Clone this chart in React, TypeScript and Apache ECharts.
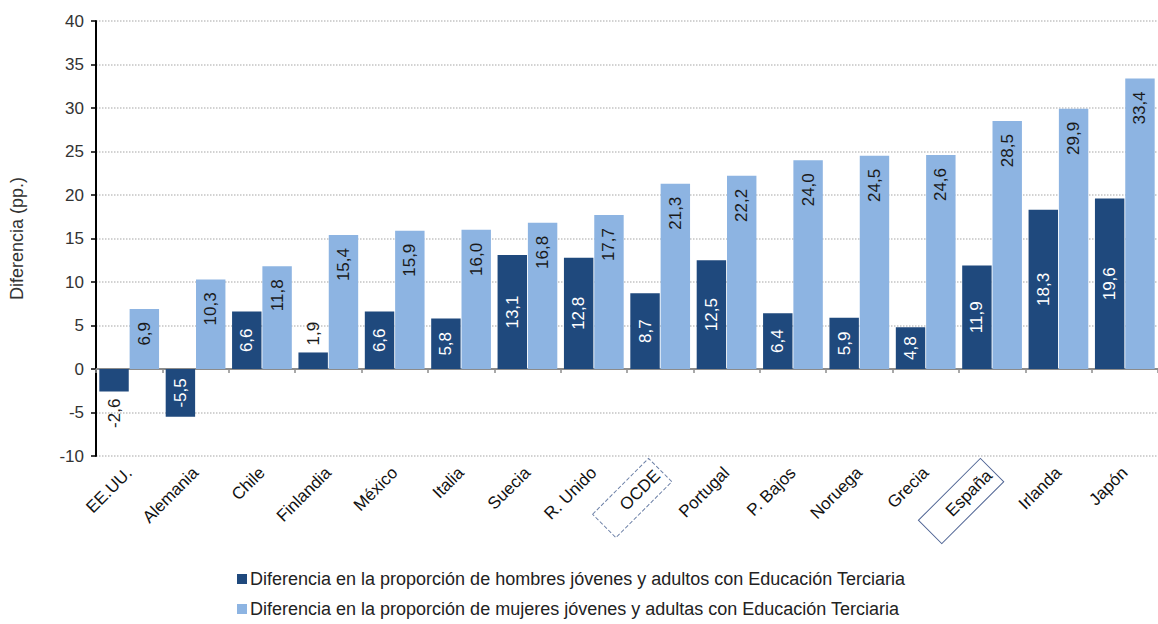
import React, { useEffect, useRef } from "react";
import * as echarts from "echarts";

const categories = [
  "EE.UU.", "Alemania", "Chile", "Finlandia", "México", "Italia", "Suecia", "R. Unido",
  "OCDE", "Portugal", "P. Bajos", "Noruega", "Grecia", "España", "Irlanda", "Japón",
];
const hombres = [-2.6, -5.5, 6.6, 1.9, 6.6, 5.8, 13.1, 12.8, 8.7, 12.5, 6.4, 5.9, 4.8, 11.9, 18.3, 19.6];
const mujeres = [6.9, 10.3, 11.8, 15.4, 15.9, 16.0, 16.8, 17.7, 21.3, 22.2, 24.0, 24.5, 24.6, 28.5, 29.9, 33.4];
const yTicks = { min: -10, max: 40, interval: 5 };
const seriesNames = [
  "Diferencia en la proporción de hombres jóvenes y adultos con Educación Terciaria",
  "Diferencia en la proporción de mujeres jóvenes y adultas con Educación Terciaria",
];

const DARK = "#1f497d";
const LIGHT = "#8db4e2";
const FONT = "'Liberation Sans', Arial, sans-serif";

const fmt = (p: any) => Number(p.value).toFixed(1).replace(".", ",");

export default function App() {
  const ref = useRef<HTMLDivElement>(null);
  useEffect(() => {
    if (!ref.current) return;
    const chart = echarts.init(ref.current, undefined, { renderer: "svg" });
    const darkData = hombres.map((v) => {
      if (v < 0 && v > -4) {
        return { value: v, label: { position: "bottom", align: "right", distance: 7, color: "#1a1a1a" } };
      }
      if (v > 0 && v < 3) {
        return { value: v, label: { position: "top", align: "left", distance: 7, color: "#1a1a1a" } };
      }
      return { value: v };
    });
    chart.setOption({
      animation: false,
      textStyle: { fontFamily: FONT },
      grid: { left: 94, top: 21, width: 1072, height: 435, containLabel: false },
      legend: {
        orient: "vertical",
        left: 237,
        top: 570,
        padding: 0,
        height: 60,
        itemWidth: 10,
        itemHeight: 10,
        itemGap: 12,
        icon: "rect",
        textStyle: { fontSize: 18, color: "#222", fontFamily: FONT, padding: [0, 0, 0, -2] },
        data: seriesNames,
      },
      xAxis: [
        {
          type: "category",
          data: categories,
          axisLine: { onZero: true, lineStyle: { color: "#8c8c8c", width: 2 } },
          axisTick: { show: true, length: 4, lineStyle: { color: "#8c8c8c", width: 1.5 } },
          axisLabel: { show: false },
          splitLine: { show: false },
        },
        {
          type: "category",
          data: categories,
          position: "bottom",
          axisLine: { show: false, onZero: false },
          axisTick: { show: false },
          axisLabel: {
            rotate: 45,
            margin: 14,
            fontSize: 17,
            color: "#111",
            fontFamily: FONT,
            interval: 0,
            formatter: (v: string) =>
              v === "OCDE" ? `{ocde|${v}}` : v === "España" ? `{esp|${v}}` : v,
            rich: {
              ocde: {
                fontSize: 17,
                color: "#111",
                fontFamily: FONT,
                borderColor: "#6b7fa6",
                borderWidth: 1,
                borderType: "dashed",
                padding: [8, 4, 8, 26],
              },
              esp: {
                fontSize: 17,
                color: "#111",
                fontFamily: FONT,
                borderColor: "#4f6494",
                borderWidth: 1,
                padding: [8, 4, 8, 26],
              },
            },
          },
        },
      ],
      yAxis: {
        type: "value",
        min: yTicks.min,
        max: yTicks.max,
        interval: yTicks.interval,
        name: "Diferencia (pp.)",
        nameLocation: "middle",
        nameGap: 70,
        nameTextStyle: { fontSize: 18, color: "#333", fontFamily: FONT },
        axisLine: { show: true, onZero: false, lineStyle: { color: "#000", width: 2 } },
        axisTick: { show: true, length: 5, lineStyle: { color: "#000", width: 1.5 } },
        axisLabel: { fontSize: 17, color: "#333", margin: 12, fontFamily: FONT },
        splitLine: { show: true, lineStyle: { color: "#c4c4c4", type: "dotted", width: 1.5 } },
      },
      series: [
        {
          name: seriesNames[0],
          type: "bar",
          xAxisIndex: 0,
          data: darkData,
          itemStyle: { color: DARK },
          barGap: "3%",
          barCategoryGap: "10%",
          label: {
            show: true,
            position: "inside",
            rotate: 90,
            align: "center",
            verticalAlign: "middle",
            fontSize: 17,
            color: "#ffffff",
            fontFamily: FONT,
            formatter: fmt,
          },
        },
        {
          name: seriesNames[1],
          type: "bar",
          xAxisIndex: 0,
          data: mujeres,
          itemStyle: { color: LIGHT },
          barGap: "3%",
          barCategoryGap: "10%",
          label: {
            show: true,
            position: "insideTop",
            distance: 13,
            rotate: 90,
            align: "right",
            verticalAlign: "middle",
            fontSize: 17,
            color: "#1a1a1a",
            fontFamily: FONT,
            formatter: fmt,
          },
        },
      ],
    });
    return () => chart.dispose();
  }, []);
  return (
    <div
      ref={ref}
      style={{ position: "absolute", left: 0, top: 0, width: 1158, height: 624, background: "#fff" }}
    />
  );
}
